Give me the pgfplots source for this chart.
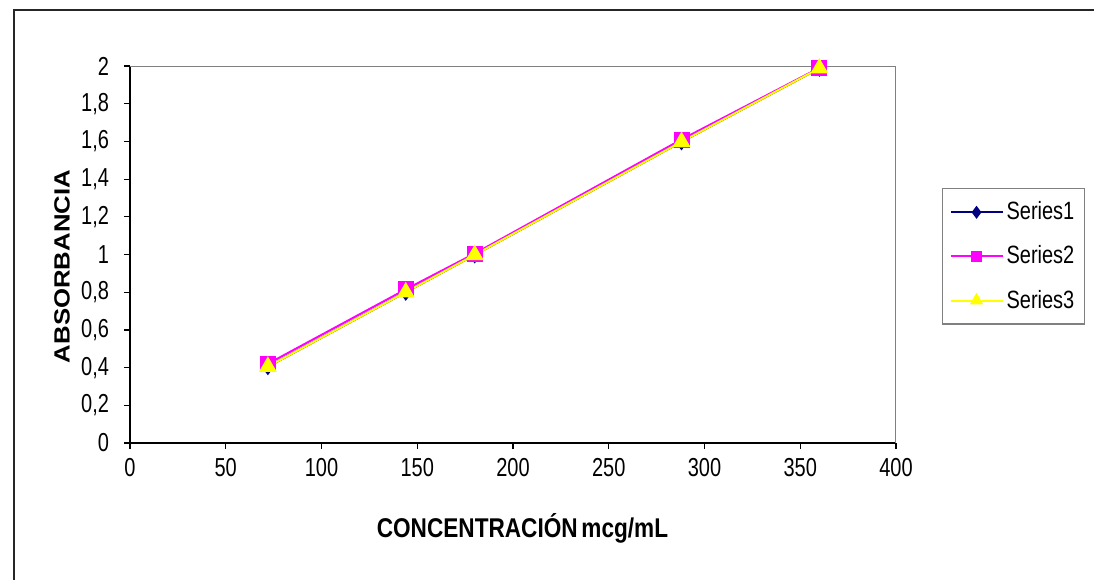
\documentclass[border=0pt]{standalone}
\usepackage{pgfplots}
\pgfplotsset{compat=1.18}
\usepackage{fontspec}
\setmainfont{Liberation Sans}
\definecolor{sNavy}{RGB}{0,0,128}
\definecolor{sMag}{RGB}{255,0,255}
\definecolor{sYel}{RGB}{255,255,0}
\definecolor{bordergray}{RGB}{128,128,128}
\begin{document}
\begin{tikzpicture}
\useasboundingbox (0,0) rectangle (547pt,290pt);
\fill[white] (0,0) rectangle (547pt,290pt);
\draw[line width=1pt, black!85] (7pt,0) -- (7pt,285pt) -- (547pt,285pt);
\begin{axis}[
  at={(65pt,68.5pt)}, anchor=south west,
  scale only axis, width=383pt, height=188.5pt,
  xmin=0, xmax=400, ymin=0, ymax=2,
  axis x line=bottom, axis y line=left,
  every outer x axis line/.append style={-, line width=1pt, black},
  every outer y axis line/.append style={-, line width=1pt, black},
  xtick={0,50,100,150,200,250,300,350,400},
  ytick={0,0.2,0.4,0.6,0.8,1,1.2,1.4,1.6,1.8,2},
  tick align=outside, major tick length=3pt,
  tick style={black, line width=0.6pt},
  /pgf/number format/assume math mode=true,
  /pgf/number format/use comma,
  ticklabel style={font=\fontsize{10}{12}\selectfont},
  xticklabel={\scalebox{1}[1.3]{\pgfmathprintnumber{\tick}}},
  yticklabel={\scalebox{1}[1.3]{\pgfmathprintnumber{\tick}}},
  yticklabel style={xshift=-4pt},
  xticklabel style={yshift=-1pt},
  xlabel={\scalebox{1}[1.2]{\fontsize{11.3}{13}\selectfont\bfseries CONCENTRACIÓN\,mcg/mL}},
  xlabel style={at={(axis description cs:0.5124,-0.2255)}, anchor=center},
  ylabel={\scalebox{1.17}[1]{\fontsize{11}{13}\selectfont\bfseries ABSORBANCIA}},
  ylabel style={at={(axis description cs:-0.0888,0.468)}, anchor=center, rotate=0},
  legend style={at={(axis description cs:1.06,0.676)}, anchor=north west,
    draw=bordergray, line width=0.6pt, font=\fontsize{10}{12}\selectfont,
    row sep=8.5pt, inner xsep=3.5pt, inner ysep=5pt, nodes={inner sep=1.5pt}},
  legend cell align=left,
  legend image code/.code={\draw[mark repeat=2,mark phase=2,mark options={scale=0.7},#1] plot coordinates {(0pt,0pt) (13pt,0pt) (26pt,0pt)};},
]
\draw[bordergray, line width=1pt] (rel axis cs:0,1) -- (rel axis cs:1,1) -- (rel axis cs:1,0);
\addplot[sNavy, line width=1pt, mark=diamond*, mark size=3.5pt, mark options={solid, fill=sNavy}]
  coordinates {(72,0.405) (144,0.80) (180,0.998) (288,1.598) (360,1.988)};
\addplot[sMag, line width=1pt, mark=square*, mark size=3.5pt, mark options={solid, fill=sMag}]
  coordinates {(72,0.42) (144,0.815) (180,1.005) (288,1.61) (360,1.99)};
\addplot[sYel, line width=1pt, mark=triangle*, mark size=4.2pt, mark options={solid, fill=sYel}]
  coordinates {(72,0.405) (144,0.80) (180,0.998) (288,1.598) (360,1.988)};
\legend{\scalebox{1}[1.25]{Series1},\scalebox{1}[1.25]{Series2},\scalebox{1}[1.25]{Series3}}
\end{axis}
\end{tikzpicture}
\end{document}
